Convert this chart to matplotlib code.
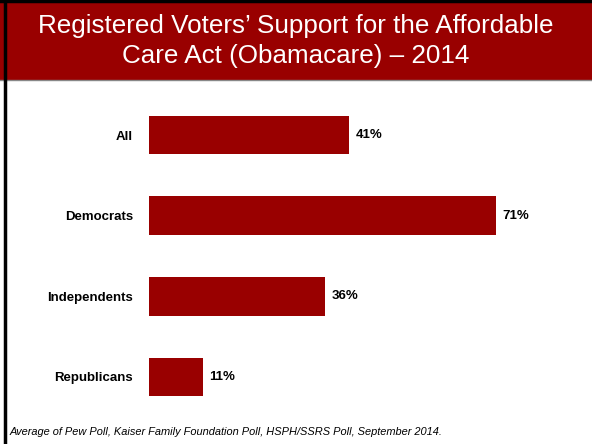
import matplotlib.pyplot as plt
from matplotlib.patches import Rectangle

groups = ['All', 'Democrats', 'Independents', 'Republicans']
support = [41, 71, 36, 11]
title = 'Registered Voters\u2019 Support for the Affordable\nCare Act (Obamacare) \u2013 2014'
note = 'Average of Pew Poll, Kaiser Family Foundation Poll, HSPH/SSRS Poll, September 2014.'

red = '#990000'
W, H = 592, 444

plt.rcParams['font.family'] = ['Liberation Sans', 'DejaVu Sans']

fig = plt.figure(figsize=(W / 100, H / 100), dpi=100)
fig.patch.set_facecolor('white')

# title banner
fig.patches.append(Rectangle((0, 1 - 80 / H), 1, 80 / H, transform=fig.transFigure,
                             facecolor=red, edgecolor='none', zorder=1))
fig.lines.append(plt.Line2D([0, 1], [1 - 80.5 / H, 1 - 80.5 / H], transform=fig.transFigure,
                            color='#888888', lw=1, zorder=2))
# black frame at top and left
fig.lines.append(plt.Line2D([0, 1], [1 - 1.5 / H, 1 - 1.5 / H], transform=fig.transFigure,
                            color='black', lw=2.5, zorder=3))
fig.lines.append(plt.Line2D([5 / W, 5 / W], [0, 1], transform=fig.transFigure,
                            color='black', lw=2.5, zorder=3))

fig.text(296 / W, 1 - 41 / H, title, color='white', fontsize=18.7, ha='center',
         va='center', linespacing=1.32)

ax = fig.add_axes([149 / W, 1 - 417.3 / H, 439.8 / W, 322.6 / H])
ypos = list(range(len(groups)))
ax.barh(ypos, support, height=0.48, color=red, edgecolor='none')
ax.set_xlim(0, 90)
ax.set_ylim(3.5, -0.5)
ax.set_yticks(ypos)
ax.set_yticklabels(groups, fontsize=9.5, fontweight='bold')
ax.tick_params(axis='y', length=0, pad=11.5)
ax.set_xticks([])
for s in ax.spines.values():
    s.set_visible(False)
for y, v in zip(ypos, support):
    ax.annotate(f'{v}%', (v, y), xytext=(4.5, 0), textcoords='offset points',
                ha='left', va='center', fontsize=9.5, fontweight='bold')

fig.text(10 / W, 1 - 432 / H, note, fontsize=7.9, style='italic', ha='left', va='center')

fig.savefig('out.png', dpi=100)
